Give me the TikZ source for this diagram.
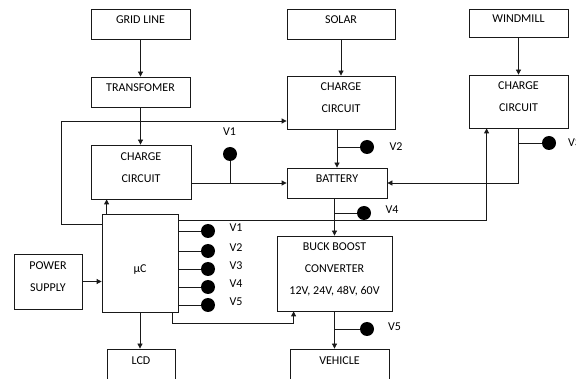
\documentclass[tikz,border=0pt]{standalone}
\usepackage{fontspec}
\setmainfont{Carlito}
\usepackage{tikz}
\usetikzlibrary{arrows.meta,positioning,calc}
\definecolor{WireBlack}{RGB}{25,25,25}

\begin{document}
\begin{tikzpicture}[
    x=1pt,y=-1pt,
    block/.style={draw=WireBlack, line width=0.8pt, inner sep=0pt, align=center, text depth=9pt, font=\fontsize{12}{22}\selectfont},
    tap/.style={circle, fill=black, inner sep=0pt, minimum size=14pt},
    tag/.style={inner sep=0pt, font=\fontsize{12}{14}\selectfont},
    wire/.style={draw=WireBlack, line width=0.8pt},
    arrow/.style={-{Triangle[length=5pt,width=5pt]}, wire}
  ]
    \useasboundingbox (0,0) rectangle (576,379);
    \clip (0,0) rectangle (576,379);
    \foreach \x/\y/\w/\h/\name/\lab in {140.5/24/99/30/grid/GRID LINE,140.5/92/99/30/transf/TRANSFOMER,141/172/100/54/gridcc/CHARGE\\CIRCUIT,341/24/108/30/solar/SOLAR,341/102.5/108/53/solarcc/CHARGE\\CIRCUIT,518.5/23/99/28/wind/WINDMILL,518.5/101.5/99/53/windcc/CHARGE\\CIRCUIT,337/183/100/30/battery/BATTERY,48/281.5/68/55/psu/POWER\\SUPPLY,334.5/273.5/115/75/buck/{BUCK BOOST\\CONVERTER\\12V, 24V, 48V, 60V},141/365/68/32/lcd/LCD,339.5/365/99/32/vehicle/VEHICLE} {
      \node[block, minimum width=\w pt, minimum height=\h pt] (\name) at (\x,\y) {\lab};
    }
    \node[block, minimum width=76pt, minimum height=98pt, text height=20pt, text depth=0pt] (uc) at (140,263) {µC};
    \draw[arrow] (grid) -- (transf);
    \draw[arrow] (transf.south) -- (transf.south |- gridcc.north);
    \draw[arrow] (solar) -- (solarcc);
    \draw[arrow] (wind) -- (windcc);
    \draw[arrow] (battery.north |- solarcc.south) -- (battery.north);
    \draw[arrow] (gridcc.east |- battery.west) -- (battery.west);
    \draw[arrow] (windcc.south) |- (battery.east);
    \draw[arrow] (buck.north |- battery.south) -- (buck.north);
    \draw[arrow] (buck.south) -- (buck.south |- vehicle.north);
    \draw[arrow] (uc.south) -- (uc.south |- lcd.north);
    \draw[arrow] (psu.east) -- (psu.east -| uc.west);
    \draw[arrow] ([xshift=5pt]uc.north west) -- ([xshift=5pt]uc.north west |- gridcc.south);
    \coordinate (loop) at (61,121);
    \draw[arrow] ([yshift=-11pt]uc.north west) -| (loop) -- (loop -| solarcc.west);
    \draw[arrow] ([yshift=-7pt]uc.north east) -| ([xshift=18pt]windcc.south west);
    \draw[arrow] ([xshift=-6pt]uc.south east) -- ++(0,11) -| ([xshift=17pt]buck.south west);
    \node[tap] (tap1) at (230,154) {};
    \node[tap] (tap2) at (367,147) {};
    \node[tap] (tap3) at (549,143) {};
    \node[tap] (tap4) at (364,213) {};
    \node[tap] (tap5) at (367,329) {};
    \draw[wire] (tap1) -- (tap1 |- battery.west);
    \draw[wire] (tap2) -- (tap2 -| battery.north);
    \draw[wire] (tap3) -- (tap3 -| windcc.south);
    \draw[wire] (tap4) -- (tap4 -| buck.north);
    \draw[wire] (tap5) -- (tap5 -| buck.south);
    \foreach \i/\x/\y in {1/229.5/132,2/396/147,3/574.5/143,4/392/210,5/394.5/327} {
      \node[tag] (taplab\i) at (\x,\y) {V\i};
    }
    \foreach \i/\y in {1/231,2/251,3/269,4/287,5/305} {
      \node[tap] (out\i) at (208,\y) {};
      \draw[wire] (out\i) -- (out\i -| uc.east);
      \node[tag] (outlab\i) at (236,\y-3.5) {V\i};
    }
  \end{tikzpicture}
\end{document}
